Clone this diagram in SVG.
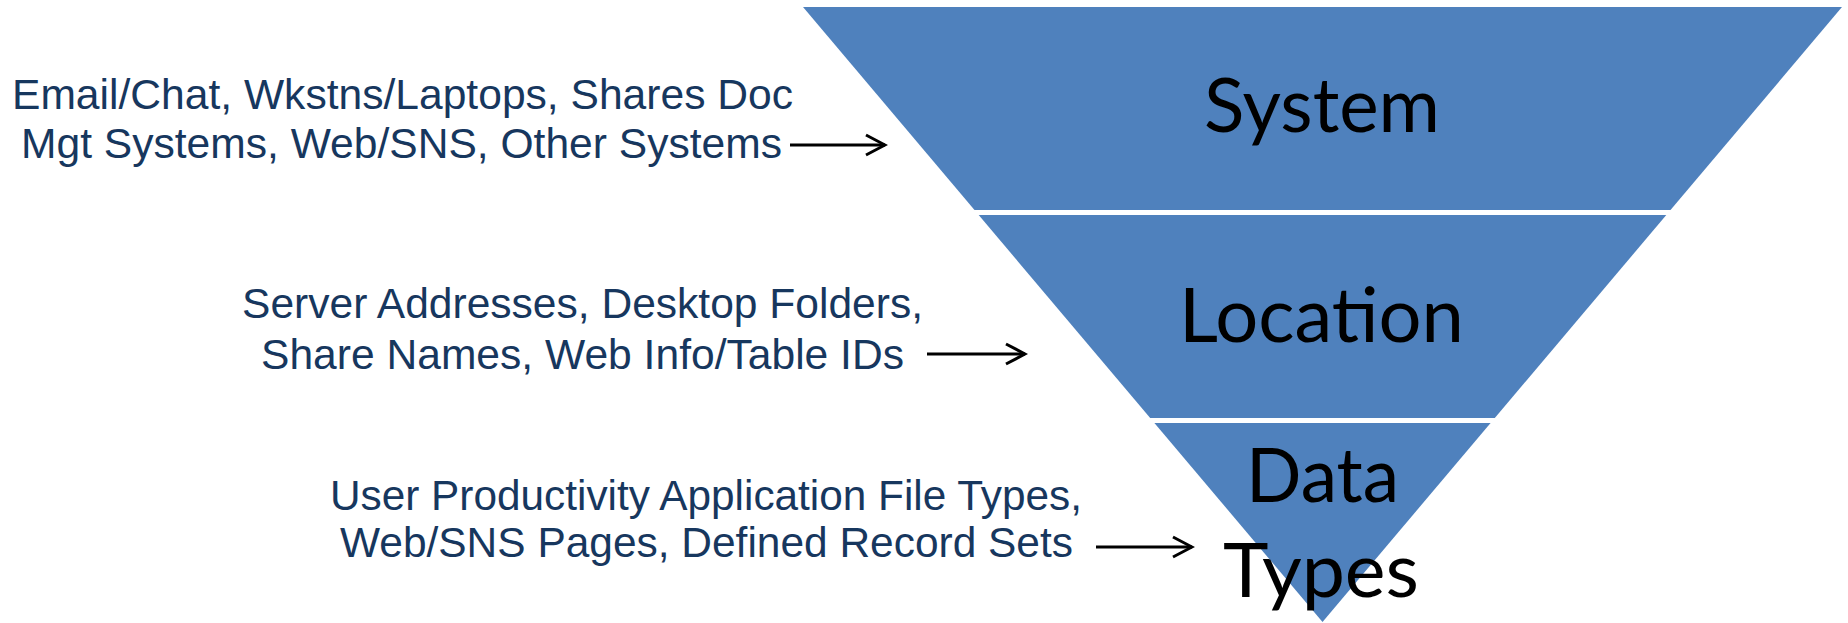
<svg xmlns="http://www.w3.org/2000/svg" width="1848" height="623" viewBox="0 0 1848 623">
  <style>
    .band { fill: #4F81BD; }
    .title { font-family: Lato, "Open Sans", "Liberation Sans", sans-serif; font-size: 75px; fill: #000000; }
    .note { font-family: "Liberation Sans", Arial, sans-serif; font-size: 43px; fill: #17375E; }
    .conn { stroke: #000000; stroke-width: 3; fill: none; }
  </style>
  <defs>
    <marker id="chevron" markerUnits="userSpaceOnUse" markerWidth="24" markerHeight="24" viewBox="-2 -2 24 24" refX="19" refY="10" orient="auto">
      <path d="M0,0 L19,10 L0,20" fill="none" stroke="#000000" stroke-width="3"/>
    </marker>
  </defs>

  <rect width="1848" height="623" fill="#FFFFFF"/>

  <!-- funnel levels -->
  <g id="level-system">
    <polygon class="band" points="803,7 1842,7 1670.5,210 974.5,210"/>
    <text class="title" x="1204" y="131.5" textLength="236" lengthAdjust="spacingAndGlyphs">System</text>
  </g>
  <g id="level-location">
    <polygon class="band" points="978.7,215 1666.3,215 1494.8,418 1150.2,418"/>
    <text class="title" x="1179" y="341.5" textLength="285" lengthAdjust="spacingAndGlyphs">Location</text>
  </g>
  <g id="level-datatypes">
    <polygon class="band" points="1154.4,423 1490.6,423 1322.5,622"/>
    <text class="title" x="1246" y="501.5" textLength="153" lengthAdjust="spacingAndGlyphs">Data</text>
    <text class="title" x="1223" y="596.5" textLength="196" lengthAdjust="spacingAndGlyphs">Types</text>
  </g>

  <!-- descriptions -->
  <g id="note-system">
    <text class="note" x="12" y="108.5" textLength="781" lengthAdjust="spacingAndGlyphs">Email/Chat, Wkstns/Laptops, Shares Doc</text>
    <text class="note" x="21" y="157.5" textLength="761" lengthAdjust="spacingAndGlyphs">Mgt Systems, Web/SNS, Other Systems</text>
  </g>
  <g id="note-location">
    <text class="note" x="242" y="318" textLength="681" lengthAdjust="spacingAndGlyphs">Server Addresses, Desktop Folders,</text>
    <text class="note" x="261" y="368.5" textLength="643" lengthAdjust="spacingAndGlyphs">Share Names, Web Info/Table IDs</text>
  </g>
  <g id="note-datatypes">
    <text class="note" x="330" y="510" textLength="752" lengthAdjust="spacingAndGlyphs">User Productivity Application File Types,</text>
    <text class="note" x="340" y="556.5" textLength="733" lengthAdjust="spacingAndGlyphs">Web/SNS Pages, Defined Record Sets</text>
  </g>

  <!-- connectors -->
  <g id="connectors">
    <line class="conn" x1="790" y1="145" x2="885" y2="145" marker-end="url(#chevron)"/>
    <line class="conn" x1="927" y1="354" x2="1025" y2="354" marker-end="url(#chevron)"/>
    <line class="conn" x1="1096" y1="547" x2="1192" y2="547" stroke-width="2.5" marker-end="url(#chevron)"/>
  </g>
</svg>
